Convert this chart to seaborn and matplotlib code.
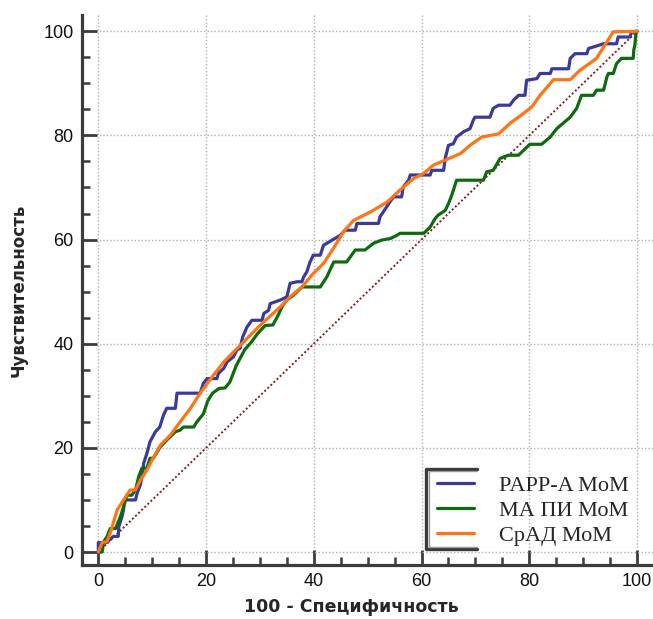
import numpy as np
import pandas as pd
import matplotlib
matplotlib.use("Agg")
import matplotlib.pyplot as plt
import seaborn as sns
from matplotlib.lines import Line2D
from matplotlib.ticker import MultipleLocator

# ---------------- data ----------------
series_names = ["PAPP-A MoM", "МА ПИ МоМ", "СрАД МоМ"]
series_colors = ["#3a3a9e", "#0d6b0d", "#ff7415"]

papp_a = [(0, 0), (0, 1.8), (1.5, 1.8), (2.8, 3.0), (3.7, 3.0), (3.8, 4.9), (4.4, 6.8), (4.7, 8.3),
          (4.8, 10.0), (6.9, 10.0), (7.2, 11.3), (7.8, 12.9), (8.3, 15.7), (8.4, 17.0), (9.0, 18.9),
          (9.6, 21.2), (10.6, 23.1), (11.4, 24.0), (12.1, 26.3), (12.7, 27.6), (14.3, 27.6),
          (14.6, 30.5), (18.9, 30.5), (19.5, 32.4), (20.2, 33.3), (22.0, 33.3), (22.3, 34.3),
          (23.3, 35.3), (23.9, 36.5), (25.1, 37.5), (25.7, 38.8), (26.3, 39.1), (26.8, 41.3),
          (27.6, 43.2), (28.5, 44.5), (30.4, 44.5), (30.7, 45.8), (31.6, 46.4), (31.9, 47.7),
          (33.8, 48.4), (35.0, 49.0), (35.6, 51.6), (36.9, 51.9), (37.8, 51.9), (38.1, 52.8),
          (38.7, 53.8), (39.3, 55.7), (39.9, 57.0), (41.2, 57.0), (41.8, 58.9), (43.4, 59.9),
          (44.9, 60.8), (45.8, 61.8), (47.7, 61.8), (48.0, 63.1), (52.0, 63.1), (52.3, 64.4),
          (52.9, 65.3), (53.9, 66.9), (54.8, 68.2), (56.3, 68.2), (56.6, 70.1), (57.6, 71.4),
          (57.9, 72.4), (61.6, 72.4), (61.9, 73.3), (64.1, 73.3), (64.4, 75.6), (65.0, 78.1),
          (65.9, 78.4), (66.5, 79.7), (67.8, 80.7), (69.0, 81.3), (69.6, 82.9), (69.9, 83.5),
          (72.7, 83.5), (73.3, 85.2), (74.3, 85.8), (76.4, 85.8), (77.1, 86.8), (78.0, 87.7),
          (79.2, 87.7), (79.5, 90.6), (81.4, 90.9), (82.0, 91.9), (83.9, 91.9), (84.2, 92.8),
          (87.3, 92.8), (87.6, 94.8), (88.5, 95.7), (90.7, 95.7), (91.0, 96.7), (93.8, 97.6),
          (96.2, 97.6), (96.5, 98.9), (98.7, 98.9), (99.0, 99.9), (100, 100)]

ma_pi = [(0, 0), (0.7, 0), (1.0, 2.0), (1.6, 2.9), (2.2, 4.5), (3.2, 4.5), (4.1, 6.8), (4.7, 8.7),
         (5.3, 10.9), (6.2, 10.9), (6.9, 11.9), (7.5, 14.5), (8.1, 16.1), (9.0, 16.1), (9.6, 18.0),
         (10.2, 18.0), (11.5, 20.2), (12.7, 21.5), (14.3, 23.1), (15.2, 23.4), (15.8, 24.0),
         (17.7, 24.0), (18.3, 25.0), (19.5, 26.5), (20.3, 29.0), (21.2, 30.5), (22.4, 31.4),
         (23.5, 31.5), (24.4, 32.6), (25.6, 35.8), (27.2, 38.9), (28.4, 40.3), (29.6, 42.0),
         (31.0, 43.5), (32.4, 43.6), (33.3, 45.3), (34.2, 47.3), (35.0, 48.4), (36.2, 49.3),
         (37.8, 50.9), (41.2, 50.9), (42.4, 52.8), (43.7, 55.7), (46.1, 55.7), (47.7, 58.0),
         (49.5, 58.0), (51.1, 59.3), (52.6, 59.9), (54.2, 60.2), (55.4, 60.8), (56.0, 61.2),
         (60.4, 61.2), (61.0, 61.8), (61.6, 62.4), (62.5, 64.0), (63.1, 64.7), (64.4, 65.6),
         (65.0, 66.9), (65.6, 68.5), (66.5, 71.4), (71.5, 71.4), (72.1, 73.0), (73.3, 73.3),
         (74.6, 75.6), (76.1, 76.2), (78.0, 76.2), (80.1, 78.3), (82.3, 78.3), (83.9, 79.7),
         (85.1, 81.3), (87.6, 83.5), (88.8, 85.2), (89.7, 87.7), (91.9, 87.7), (92.5, 88.7),
         (93.8, 88.7), (94.4, 91.2), (94.7, 91.9), (95.6, 91.9), (96.2, 93.8), (97.1, 94.8),
         (99.3, 94.8), (99.4, 96.4), (99.6, 97.3), (99.8, 99.6), (100, 100)]

srad = [(0, 0), (0.7, 1.8), (1.6, 2.0), (2.2, 3.6), (3.5, 8.1), (4.7, 10.0), (5.9, 11.9),
        (6.9, 11.9), (7.8, 13.8), (9.0, 15.7), (10.3, 18.3), (11.5, 20.5), (13.4, 22.5),
        (15.2, 25.0), (17.1, 27.6), (18.9, 30.5), (21.4, 34.0), (23.3, 36.5), (25.1, 38.4),
        (27.6, 41.0), (30.1, 43.6), (31.9, 45.3), (33.8, 47.1), (35.6, 49.0), (37.8, 50.9),
        (39.9, 53.5), (41.8, 55.4), (43.7, 58.4), (45.5, 61.5), (47.4, 63.7), (50.5, 65.3),
        (53.6, 67.2), (56.0, 69.5), (58.5, 71.7), (60.4, 72.7), (62.2, 74.3), (64.7, 75.4),
        (67.2, 76.5), (69.0, 78.1), (71.2, 79.7), (74.3, 80.3), (76.4, 82.3), (78.9, 84.2),
        (80.5, 85.5), (82.0, 87.7), (84.5, 90.7), (87.6, 90.7), (89.4, 92.5), (92.5, 94.8),
        (93.8, 97.0), (95.6, 99.9), (100, 100)]

diag_x = [0, 100]
diag_y = [0, 100]
tick_values = [0, 20, 40, 60, 80, 100]

x_label = "100 - Специфичность"
y_label = "Чувствительность"

# ---------------- build table ----------------
frames = []
for name, pts in zip(series_names, [papp_a, ma_pi, srad]):
    arr = np.array(pts)
    frames.append(pd.DataFrame({"x": arr[:, 0], "y": arr[:, 1], "series": name,
                                "order": np.arange(len(arr))}))
df = pd.concat(frames, ignore_index=True)

# ---------------- figure ----------------
sns.set_style("white")
plt.rcParams["font.family"] = ["Liberation Sans", "DejaVu Sans"]

fig = plt.figure(figsize=(6.53, 6.19), dpi=100)
ax = fig.add_axes([0.1256, 0.0872, 0.8744, 0.8886])

ax.plot(diag_x, diag_y, color="#8b1a1a", lw=1.4, linestyle=(0, (1, 1.2)), zorder=2)

for name, col in zip(series_names, series_colors):
    sub = df[df["series"] == name]
    sns.lineplot(data=sub, x="x", y="y", sort=False, estimator=None, color=col,
                 lw=2.3, ax=ax, zorder=3, label=name)

ax.set_xlim(-3.03, 102.97)
ax.set_ylim(-2.5, 103.13)
ax.set_xticks(tick_values)
ax.set_yticks(tick_values)
ax.xaxis.set_minor_locator(MultipleLocator(5))
ax.yaxis.set_minor_locator(MultipleLocator(5))

ax.grid(True, which="major", color="#b0b0b0", lw=1.0, linestyle=(0, (1, 1.5)), zorder=0)

for side in ["top", "right"]:
    ax.spines[side].set_visible(False)
for side in ["left", "bottom"]:
    ax.spines[side].set_color("#3c3c3c")
    ax.spines[side].set_linewidth(2.3)

ax.tick_params(axis="both", which="both", bottom=True, left=True, top=False, right=False)
ax.tick_params(axis="both", which="major", direction="in", length=11, width=2.0,
               color="#3c3c3c", labelsize=13, pad=6, labelcolor="#111111")
ax.tick_params(axis="both", which="minor", direction="in", length=5.5, width=1.8,
               color="#3c3c3c")

ax.set_xlabel(x_label, fontsize=12.5, fontweight="bold", family="DejaVu Sans")
ax.set_ylabel(y_label, fontsize=12, fontweight="bold", family="DejaVu Sans")
ax.xaxis.set_label_coords(0.471, -0.060)
ax.yaxis.set_label_coords(-0.095, 0.5)

leg = ax.legend(loc="upper left", bbox_to_anchor=(0.622, 0.163), frameon=False,
                borderaxespad=0, borderpad=0, handlelength=1.65, handletextpad=1.15,
                labelspacing=0.2, prop={"family": "Liberation Serif", "size": 16})
for h in leg.get_lines():
    h.set_linewidth(2.3)

# partial legend frame (open on the right, as in the reference)
x0, x1, yb, yt = 0.6025, 0.692, 0.029, 0.1745
for lw, col, off in [(2.4, "#3a3a3a", 0.0), (1.0, "#9a9a9a", 0.0045)]:
    ax.add_line(Line2D([x1, x0 + off, x0 + off, x1],
                       [yt - off * 0.95, yt - off * 0.95, yb + off * 0.95, yb + off * 0.95],
                       transform=ax.transAxes, color=col, lw=lw, clip_on=False, zorder=5))

fig.savefig("out.png", dpi=100)
